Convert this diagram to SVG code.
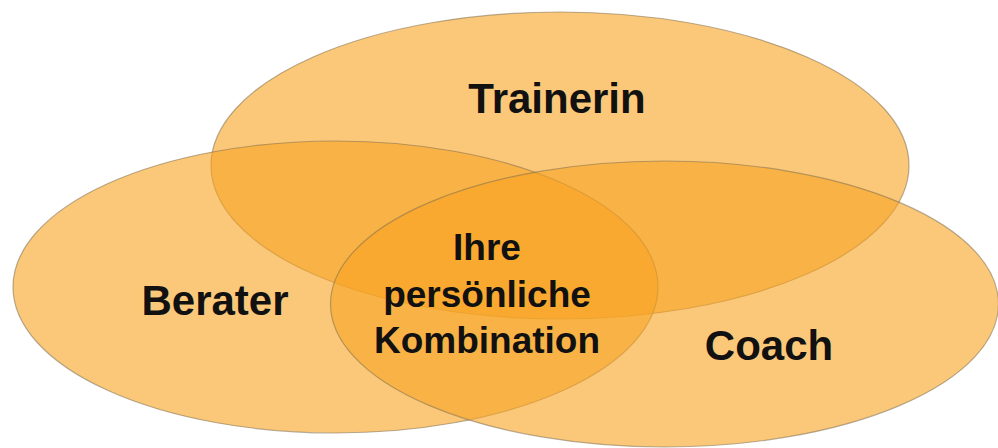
<svg xmlns="http://www.w3.org/2000/svg" width="998" height="448" viewBox="0 0 998 448">
<style>
.set{fill:#F8A321;fill-opacity:0.6;stroke:#7f7050;stroke-opacity:0.55;stroke-width:1.2}
.lbl{font-family:"Liberation Sans",Arial,sans-serif;font-weight:bold;fill:#111;text-anchor:middle}
.big{font-size:42px}
.mid{font-size:37px}
</style>
<rect width="998" height="448" fill="#ffffff"/>
<g id="trainerin">
<ellipse class="set" cx="560" cy="165.5" rx="349" ry="153.5"/>
<text class="lbl big" x="557" y="113">Trainerin</text>
</g>
<g id="berater">
<ellipse class="set" cx="335.5" cy="287" rx="322.5" ry="146"/>
<text class="lbl big" x="215" y="315">Berater</text>
</g>
<g id="coach">
<ellipse class="set" cx="664.5" cy="304" rx="334" ry="143"/>
<text class="lbl big" x="769" y="360">Coach</text>
</g>
<g id="kombination">
<text class="lbl mid" x="487" y="260">Ihre</text>
<text class="lbl mid" x="487" y="307">persönliche</text>
<text class="lbl mid" x="487" y="353">Kombination</text>
</g>
<g id="connectors"/>
</svg>
